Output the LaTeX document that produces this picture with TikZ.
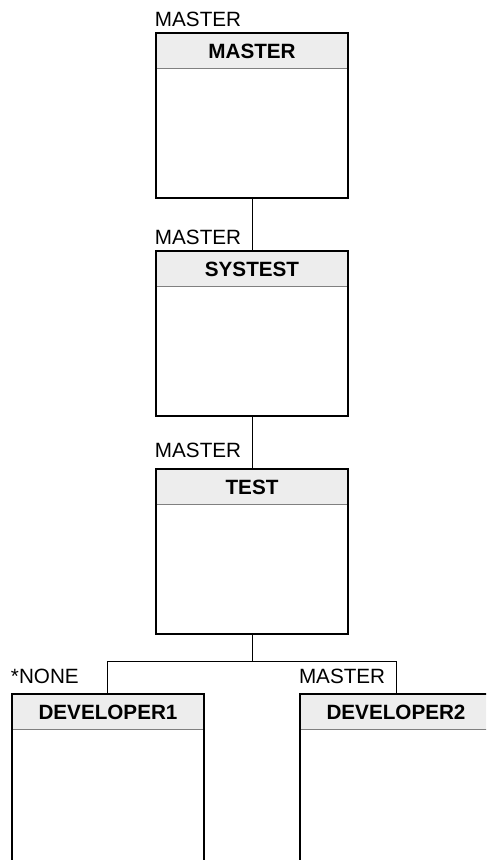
\documentclass[tikz,border=0pt]{standalone}
\usepackage{fontspec}
\setmainfont{Liberation Sans}
\usetikzlibrary{positioning}
\definecolor{headgray}{HTML}{EDEDED}
\definecolor{rulegray}{HTML}{808080}

\begin{document}
\begin{tikzpicture}[font=\fontsize{15.5}{18}\selectfont,
    branch/.style={draw, line width=1.5pt, minimum width=144pt, minimum height=124pt, inner sep=0pt},
    head/.style={fill=headgray, minimum width=142.5pt, minimum height=25.5pt, inner sep=0pt, outer sep=0pt, font=\fontsize{15.5}{18}\selectfont\bfseries},
    tag/.style={inner sep=0pt, outer sep=0pt},
    link/.style={line width=0.75pt}]

    \clip (-189pt,-558.2pt) rectangle (175.5pt,86.8pt);

    \node[branch] (master) at (0,0) {};
    \node[branch] (systest) [below=38pt of master] {};
    \node[branch] (test) [below=38pt of systest] {};
    \node[branch, minimum height=140pt] (dev1) [below=43.5pt of test, xshift=-108pt] {};
    \node[branch, minimum height=140pt] (dev2) [below=43.5pt of test, xshift=108pt] {};

    \node[head] (masterhead) [below=1.5pt of master.north] {MASTER};
    \node[head] (systesthead) [below=1.5pt of systest.north] {SYSTEST};
    \node[head] (testhead) [below=1.5pt of test.north] {TEST};
    \node[head] (dev1head) [below=1.5pt of dev1.north] {DEVELOPER1};
    \node[head] (dev2head) [below=1.5pt of dev2.north] {DEVELOPER2};

    \foreach \b in {master, systest, test, dev1, dev2}
        \draw[rulegray, link] (\b head.south west) -- (\b head.south east);

    \node[tag] (mastertag) [above right=3.75pt and 0pt of master.north west] {MASTER};
    \node[tag] (systesttag) [above right=3.75pt and 0pt of systest.north west] {MASTER};
    \node[tag] (testtag) [above right=7.5pt and 0pt of test.north west] {MASTER};
    \node[tag] (dev1tag) [above right=7.5pt and 0pt of dev1.north west] {*NONE};
    \node[tag] (dev2tag) [above right=7.5pt and 0pt of dev2.north west] {MASTER};

    \draw[link] (master) -- (systest);
    \draw[link] (systest) -- (test);
    \draw[link] (test.south) -- ++(0,-19.5pt) coordinate (fork);
    \draw[link] (fork) -| (dev1.north);
    \draw[link] (fork) -| (dev2.north);
\end{tikzpicture}
\end{document}
